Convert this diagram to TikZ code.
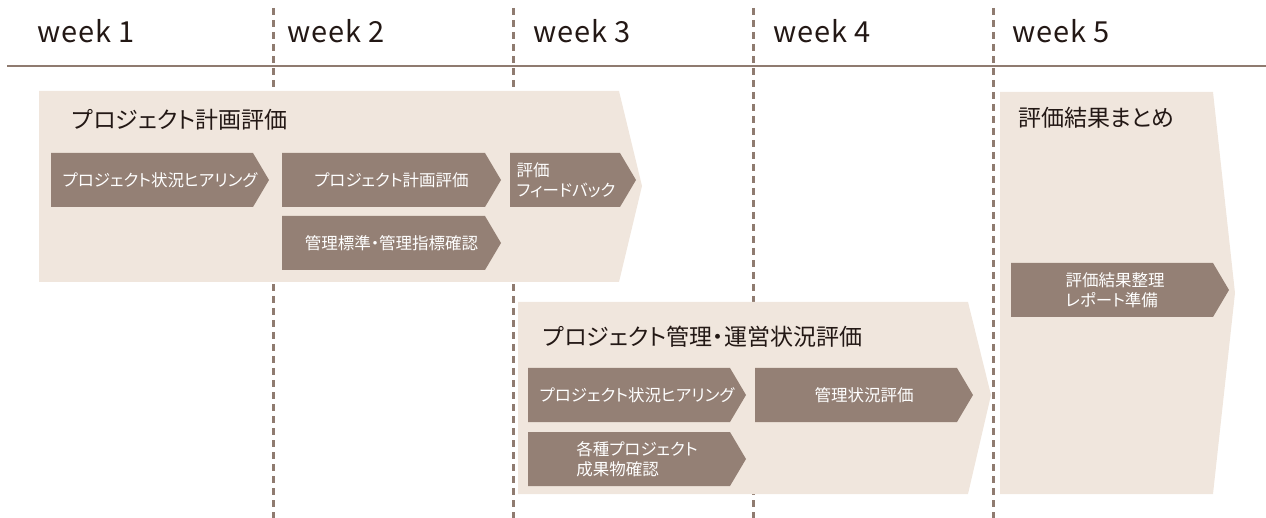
\documentclass[tikz,border=0pt]{standalone}
\usepackage{fontspec}
\setmainfont{Noto Sans CJK JP}[RawFeature=+palt]
\newfontfamily\weekfont[LetterSpace=3]{Noto Sans CJK JP}

\definecolor{panelfill}{HTML}{F0E6DD}
\definecolor{taskfill}{HTML}{948075}
\definecolor{rulecol}{HTML}{8F7B70}
\definecolor{inkcol}{HTML}{231815}

\tikzset{
  weeklabel/.style={anchor=base west, inner sep=0pt, text=inkcol, font=\weekfont\fontsize{29}{32}\selectfont},
  phasetitle/.style={anchor=west, inner sep=0pt, text=inkcol, font=\fontsize{23}{26}\selectfont},
  tasktext/.style={inner sep=0pt, text=white, align=left, font=\fontsize{16.5}{20}\selectfont},
  weekrule/.style={rulecol, line width=2.2pt, dash pattern=on 7pt off 5pt},
}

% [text shift], name, left, top, right end, text
\newcommand{\taskarrow}[6][0]{
  \fill[taskfill] (#3,#4) -- (#5,#4) -- ++(16,27) -- ++(-16,27) -- (#3,#4+54) -- cycle;
  \node[tasktext] (#2) at ({(#3+#5+16)/2+#1},#4+27) {#6};
}

\begin{document}
\begin{tikzpicture}[x=1pt, y=-1pt]
\useasboundingbox (0,0) rectangle (1266,518);

\foreach \x in {273.5,513.5,753.5,993.5}
  \draw[weekrule] (\x,8) -- (\x,518);
\draw[rulecol, line width=2pt] (7,66) -- (1266,66);
\foreach \x/\n in {37/1,287/2,533/3,773/4,1012/5}
  \node[weeklabel] (week\n) at (\x,43) {week \n};

% phases
\fill[panelfill] (39,91) -- (619,91) -- (642,186) -- (619,282) -- (39,282) -- cycle;
\node[phasetitle] (plan) at (72,120) {プロジェクト計画評価};
\fill[panelfill] (518,302) -- (968,302) -- (991,395) -- (968,494) -- (518,494) -- cycle;
\node[phasetitle] (manage) at (543,337) {プロジェクト管理・運営状況評価};
\fill[panelfill] (1000,92) -- (1213,92) -- (1235,293) -- (1213,494) -- (1000,494) -- cycle;
\node[phasetitle] (summary) at (1018,118) {評価結果まとめ};

% tasks
\taskarrow{hear1}{51}{153}{253}{プロジェクト状況ヒアリング}
\taskarrow{planeval}{282}{153}{485}{プロジェクト計画評価}
\taskarrow[-7]{feedback}{510}{153}{620}{評価\\フィードバック}
\taskarrow{standard}{282}{216}{485}{管理標準・管理指標確認}
\taskarrow{hear2}{528}{368}{730}{プロジェクト状況ヒアリング}
\taskarrow{status}{755}{368}{957}{管理状況評価}
\taskarrow{deliver}{528}{432}{730}{各種プロジェクト\\成果物確認}
\taskarrow[-5]{report}{1011}{263}{1213}{評価結果整理\\レポート準備}
\end{tikzpicture}
\end{document}
